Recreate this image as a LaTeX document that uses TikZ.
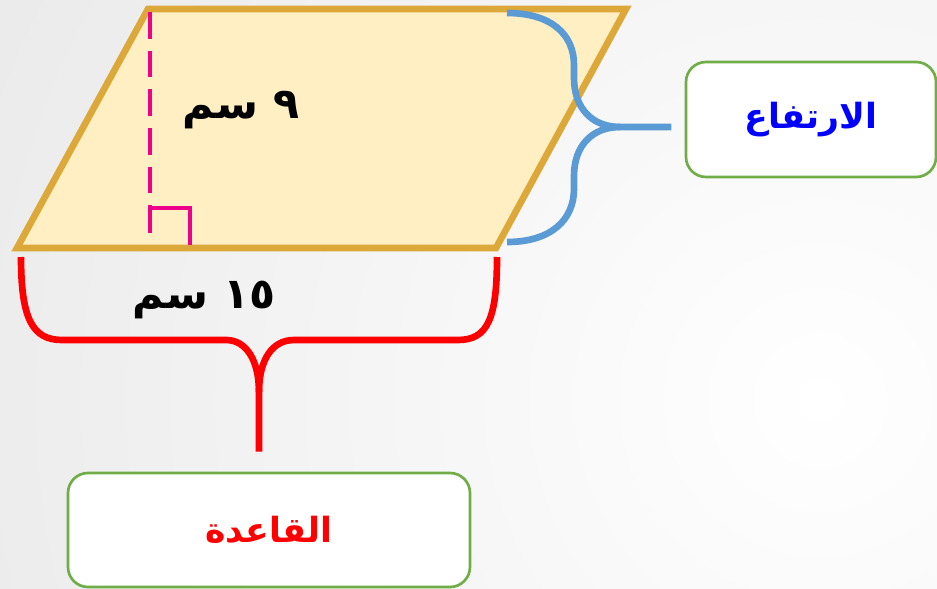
\documentclass[tikz,border=0pt]{standalone}
\usepackage{fontspec}
\newfontfamily\arabicfont[Script=Arabic]{DejaVu Sans}
\TeXXeTstate=1
\definecolor{parafill}{HTML}{FFEFC2}
\definecolor{parastroke}{HTML}{DCA83A}
\definecolor{pinkline}{HTML}{EC008C}
\definecolor{bracebl}{HTML}{5B9BD5}
\definecolor{bracered}{HTML}{FF0000}
\definecolor{boxgreen}{HTML}{70AD47}
\definecolor{bgout}{HTML}{E2E2E2}
\tikzset{
  brace/.style={line width=5pt, line cap=butt},
  labelbox/.style={draw=boxgreen, line width=2pt, fill=white, rounded corners=15pt, inner sep=0pt},
  measure/.style={font=\arabicfont\bfseries\fontsize{32}{34}\selectfont, text=black, inner sep=0pt},
  boxtext/.style={font=\arabicfont\bfseries\fontsize{26}{28}\selectfont},
}
\begin{document}
\begin{tikzpicture}[x=0.75pt, y=-0.75pt]
\useasboundingbox (0,0) rectangle (937,588);
% background
\begin{scope}
\clip (0,0) rectangle (937,588);
\fill[bgout] (0,0) rectangle (937,588);
\shade[inner color=white, outer color=bgout] (820,400) circle (1300);
\end{scope}
% parallelogram
\coordinate (bl) at (17,248);
\coordinate (tl) at (148,9);
\coordinate (tr) at (626,9);
\coordinate (br) at (496,248);
\draw[parastroke, fill=parafill, line width=5pt, line join=miter] (bl) -- (tl) -- (tr) -- (br) -- cycle;
% height
\coordinate (htop) at (150,12);
\coordinate (hbot) at (150,233);
\draw[pinkline, line width=3.5pt, dash pattern=on 20pt off 9pt] (htop) -- (hbot);
\draw[pinkline, line width=3pt] (150,233) -- (150,208) -- (190,208) -- (190,245);
% measure labels
\node[measure] (nine) at (241,110) {\beginR ٩ سم\endR};
\node[measure] (fifteen) at (204,300) {\beginR\beginL ١٥\endL{} سم\endR};
% label boxes
\node[labelbox, boxtext, text=blue, minimum width=187.5pt, minimum height=86.25pt] (hbox) at (811,119.5) {\beginR الارتفاع\endR};
\node[labelbox, boxtext, text=bracered, minimum width=301.5pt, minimum height=85.5pt] (bbox) at (269,530) {\beginR القاعدة\endR};
% blue brace
\coordinate (bt) at (507,13);
\coordinate (bb) at (507,242);
\coordinate (bm) at (620,127);
\draw[brace, bracebl, shorten >=10pt] (bt) .. controls (552,13) and (574,35) .. (574,65) -- (574,78) .. controls (574,108) and (592,127) .. (bm) -- (bm -| hbox.west);
\draw[brace, bracebl] (bm) .. controls (592,127) and (574,146) .. (574,176) -- (574,189) .. controls (574,219) and (552,242) .. (bb);
% red brace
\coordinate (rl) at (21,257);
\coordinate (rr) at (497,257);
\coordinate (rm) at (259,392);
\draw[brace, bracered] (rl) .. controls (21,318) and (32,340) .. (62,340) -- (226,340) .. controls (246,340) and (259,360) .. (rm) -- ([yshift=15pt]bbox.north -| rm);
\draw[brace, bracered] (rm) .. controls (259,360) and (272,340) .. (294,340) -- (458,340) .. controls (488,340) and (497,318) .. (rr);
\end{tikzpicture}
\end{document}
